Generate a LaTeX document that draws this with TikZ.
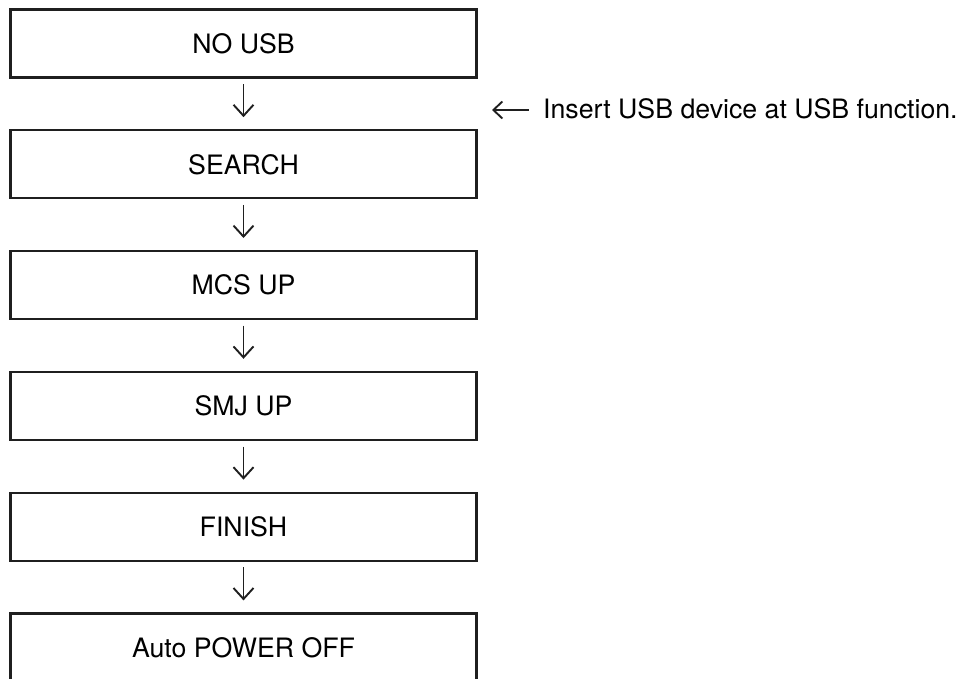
\documentclass[tikz,border=0pt]{standalone}
\usepackage{fontspec}
\setmainfont{TeX Gyre Heros}
\usetikzlibrary{arrows.meta}

\tikzset{
  stepbox/.style={draw=black!88, line width=2.2bp, minimum width=466bp,
    minimum height=68bp, inner sep=0pt, anchor=center,
    font=\fontsize{26.7bp}{32bp}\selectfont},
  flow/.style={draw=black!88, line width=1.9bp,
    -{Straight Barb[length=11bp,width=20bp,line width=1.9bp]},
    shorten <=5.5bp, shorten >=12bp},
  hint/.style={draw=black!88, line width=1.9bp,
    -{Straight Barb[length=9bp,width=17bp,line width=1.9bp]}},
  note/.style={inner sep=0pt, font=\fontsize{26.7bp}{32bp}\selectfont}
}

\begin{document}
\begin{tikzpicture}[x=1bp, y=-1bp]
  \useasboundingbox (0,0) rectangle (961,679);

  % process states, top to bottom
  \node[stepbox] (nousb)  at (243.5, 43.5)  {NO USB};
  \node[stepbox] (search) at (243.5, 164.3) {SEARCH};
  \node[stepbox] (mcs)    at (243.5, 285.1) {MCS UP};
  \node[stepbox] (smj)    at (243.5, 405.9) {SMJ UP};
  \node[stepbox] (finish) at (243.5, 526.7) {FINISH};
  \node[stepbox] (off)    at (243.5, 647.5) {Auto POWER OFF};

  % transitions
  \draw[flow] (nousb.south)  -- (search.north);
  \draw[flow] (search.south) -- (mcs.north);
  \draw[flow] (mcs.south)    -- (smj.north);
  \draw[flow] (smj.south)    -- (finish.north);
  \draw[flow] (finish.south) -- (off.north);

  % side note on the first transition
  \node[note, anchor=base west] (insert) at (543, 119)
    {Insert USB device at USB function.};
  \coordinate (hinttail) at (528.5, 110);
  \coordinate (hinthead) at (492, 110);
  \draw[hint] (hinttail) -- (hinthead);
\end{tikzpicture}
\end{document}
